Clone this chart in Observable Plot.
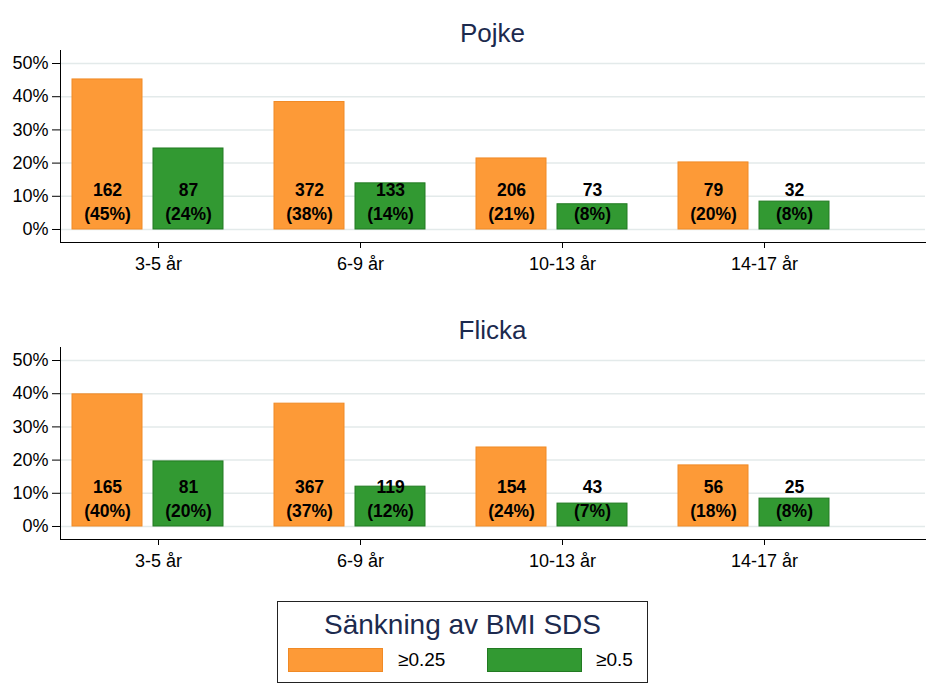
<!DOCTYPE html>
<html><head><meta charset="utf-8">
<script src="https://cdn.jsdelivr.net/npm/d3@7"></script>
<script src="https://cdn.jsdelivr.net/npm/@observablehq/plot@0.6"></script>
<style>
body{margin:0;background:#fff;font-family:"Liberation Sans",Arial,sans-serif;}
#root{position:relative;width:943px;height:689px;overflow:hidden;}
.title{height:45px;box-sizing:border-box;padding:20px 18px 0 60px;font-size:26px;line-height:1;text-align:center;color:#1c2a4e;}
svg{display:block;}
.legend{position:absolute;left:277px;top:601px;width:371px;height:82px;border:1px solid #222;box-sizing:border-box;background:#fff;}
.legend .lt{position:absolute;left:0;right:0;top:9px;text-align:center;font-size:28px;line-height:1;color:#1c2a4e;}
.legend .sw{position:absolute;top:46px;height:24px;box-sizing:border-box;border:1px solid;}
.legend .lb{position:absolute;top:48px;font-size:19px;line-height:20px;color:#000;}
</style></head><body><div id="root"></div>
<script>
const ages = ["3-5 år", "6-9 år", "10-13 år", "14-17 år"];
const seriesNames = ["≥0.25", "≥0.5"];
const seriesFill = ["#fd9a37", "#329932"];
const seriesStroke = ["#f08a26", "#227a22"];
const legendTitle = "Sänkning av BMI SDS";
const panelTitles = ["Pojke", "Flicka"];
// percent of children per age group
const pojkePct025 = [45.2, 38.4, 21.4, 20.2];
const pojkePct05 = [24.4, 13.9, 7.6, 8.4];
const pojkeN025 = [162, 372, 206, 79];
const pojkeN05 = [87, 133, 73, 32];
const flickaPct025 = [39.8, 37.0, 23.8, 18.4];
const flickaPct05 = [19.6, 12.0, 6.9, 8.4];
const flickaN025 = [165, 367, 154, 56];
const flickaN05 = [81, 119, 43, 25];
const yTicks = [0, 10, 20, 30, 40, 50];

const FONT = "'Liberation Sans', Arial, sans-serif";

function panel(p025, p05, n025, n05) {
  const hi = ages.map((a, i) => ({age: a, v: p025[i], n: n025[i]}));
  const lo = ages.map((a, i) => ({age: a, v: p05[i], n: n05[i]}));
  const labelMarks = (data, dx) => [
    Plot.text(data, {x: "age", y: () => 0, dx, dy: -39, text: d => String(d.n), fontWeight: "bold", fontSize: 17.5, fill: "#000"}),
    Plot.text(data, {x: "age", y: () => 0, dx, dy: -15.5, text: d => `(${Math.round(d.v)}%)`, fontWeight: "bold", fontSize: 17.5, fill: "#000"})
  ];
  return Plot.plot({
    width: 943, height: 252,
    marginLeft: 60, marginRight: 18, marginTop: 5, marginBottom: 55,
    style: {fontFamily: FONT, fontSize: "18px", color: "#000", background: "#fff", overflow: "visible"},
    x: {domain: ages, range: [72, 850], paddingInner: 30 / 202, paddingOuter: 0, align: 0},
    y: {domain: [-3.92, 53.92]},
    marks: [
      Plot.gridY(yTicks, {stroke: "#e3eaea", strokeOpacity: 1, strokeWidth: 1.5}),
      Plot.barY(hi, {x: "age", y: "v", fill: seriesFill[0], stroke: seriesStroke[0], strokeWidth: 1, insetRight: 102}),
      Plot.barY(lo, {x: "age", y: "v", fill: seriesFill[1], stroke: seriesStroke[1], strokeWidth: 1, insetLeft: 81, insetRight: 21}),
      ...labelMarks(hi, -51),
      ...labelMarks(lo, 30),
      Plot.axisY(yTicks, {tickFormat: d => d + "%", tickSize: 8, tickPadding: 4, fontSize: 18, label: null, stroke: "#000"}),
      Plot.axisX({tickSize: 6, tickPadding: 9, fontSize: 18, label: null, stroke: "#000"}),
      Plot.frame({anchor: "left", stroke: "#000"}),
      Plot.frame({anchor: "bottom", stroke: "#000"})
    ]
  });
}

const root = document.getElementById("root");
const data = [[pojkePct025, pojkePct05, pojkeN025, pojkeN05], [flickaPct025, flickaPct05, flickaN025, flickaN05]];
data.forEach((d, k) => {
  const t = document.createElement("div");
  t.className = "title";
  t.textContent = panelTitles[k];
  root.appendChild(t);
  root.appendChild(panel(...d));
});

const leg = document.createElement("div");
leg.className = "legend";
const lt = document.createElement("div");
lt.className = "lt"; lt.textContent = legendTitle;
leg.appendChild(lt);
const swLeft = [10, 209], lbLeft = [120, 318];
seriesNames.forEach((s, i) => {
  const sw = document.createElement("div");
  sw.className = "sw";
  sw.style.left = swLeft[i] + "px";
  sw.style.width = "95px";
  sw.style.background = seriesFill[i];
  sw.style.borderColor = seriesStroke[i];
  leg.appendChild(sw);
  const lb = document.createElement("div");
  lb.className = "lb";
  lb.style.left = lbLeft[i] + "px";
  lb.textContent = s;
  leg.appendChild(lb);
});
root.appendChild(leg);
</script></body></html>
